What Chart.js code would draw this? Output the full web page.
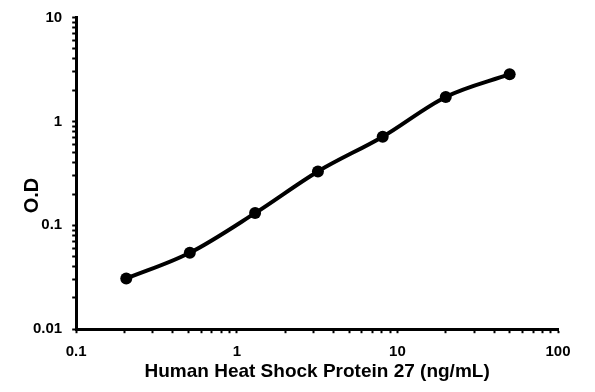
<!DOCTYPE html>
<html>
<head>
<meta charset="utf-8">
<script src="https://cdn.jsdelivr.net/npm/chart.js@4/dist/chart.umd.min.js"></script>
<style>
  html, body { margin: 0; padding: 0; background: #fff; }
  #wrap { width: 595px; height: 392px; }
</style>
</head>
<body>
<div id="wrap"><canvas id="stdCurve" width="595" height="392"></canvas></div>
<script>
// Standard curve data
const concentrations = [0.205, 0.51, 1.3, 3.2, 8.1, 20, 50];   // ng/mL
const odValues = [0.0307, 0.0544, 0.131, 0.330, 0.713, 1.72, 2.85];

const xTickValues = [0.1, 1, 10, 100];
const yTickValues = [0.01, 0.1, 1, 10];

const FONT = '"Liberation Sans", Arial, sans-serif';

// minor ticks at 1..9 x 10^n between min and max
function logTicks(min, max) {
    const ticks = [];
    for (let p = Math.round(Math.log10(min)); p < Math.round(Math.log10(max)); p++) {
        for (let m = 1; m <= 9; m++) ticks.push({ value: m * Math.pow(10, p) });
    }
    ticks.push({ value: max });
    return ticks;
}

function majorLabel(list) {
    return function(value) {
        const hit = list.find(v => Math.abs(v - value) / v < 1e-6);
        return hit !== undefined ? String(hit) : '';
    };
}

const points = concentrations.map((c, i) => ({ x: c, y: odValues[i] }));

const ctx = document.getElementById('stdCurve').getContext('2d');
new Chart(ctx, {
    type: 'line',
    data: {
        datasets: [{
            data: points,
            borderColor: '#000',
            backgroundColor: '#000',
            borderWidth: 4,
            pointRadius: 6,
            pointBackgroundColor: '#000',
            pointBorderWidth: 0,
            cubicInterpolationMode: 'monotone',
            fill: false
        }]
    },
    options: {
        responsive: false,
        animation: false,
        layout: { padding: { left: 0, right: 37, top: 15, bottom: 9 } },
        plugins: {
            legend: { display: false },
            tooltip: { enabled: false }
        },
        scales: {
            x: {
                type: 'logarithmic',
                min: 0.1,
                max: 100,
                afterBuildTicks: axis => { axis.ticks = logTicks(0.1, 100); },
                grid: {
                    drawOnChartArea: false,
                    color: '#000',
                    tickLength: 4,
                    tickWidth: 2
                },
                border: { display: true, color: '#000', width: 3 },
                ticks: {
                    autoSkip: false,
                    maxRotation: 0,
                    color: '#000',
                    padding: 10,
                    font: { family: FONT, size: 15, weight: 'bold' },
                    callback: majorLabel(xTickValues)
                },
                title: {
                    display: true,
                    text: 'Human Heat Shock Protein 27 (ng/mL)',
                    color: '#000',
                    padding: { top: -11, bottom: 0 },
                    font: { family: FONT, size: 19, weight: 'bold' }
                }
            },
            y: {
                type: 'logarithmic',
                min: 0.01,
                max: 10,
                afterBuildTicks: axis => { axis.ticks = logTicks(0.01, 10); },
                grid: {
                    drawOnChartArea: false,
                    color: '#000',
                    tickLength: 4,
                    tickWidth: 2
                },
                border: { display: true, color: '#000', width: 3 },
                ticks: {
                    autoSkip: false,
                    color: '#000',
                    padding: 10,
                    font: { family: FONT, size: 15, weight: 'bold', lineHeight: 1 },
                    callback: majorLabel(yTickValues)
                },
                title: {
                    display: true,
                    // trailing spaces push the label a little below the axis centre, as in the original
                    text: 'O.D        ',
                    color: '#000',
                    padding: { top: 20, bottom: -21 },
                    font: { family: FONT, size: 20, weight: 'bold' }
                }
            }
        }
    }
});
</script>
</body>
</html>
